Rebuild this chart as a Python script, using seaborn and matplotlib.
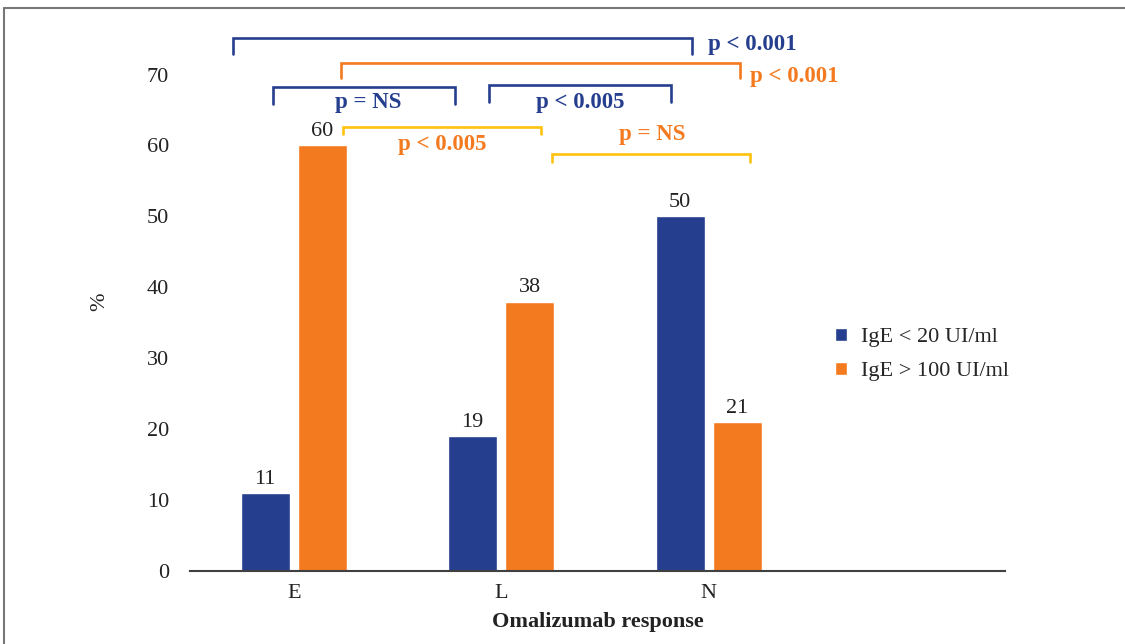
import matplotlib
matplotlib.use("Agg")
import matplotlib.pyplot as plt
import seaborn as sns
import pandas as pd
from matplotlib.lines import Line2D

# --- Data ------------------------------------------------------------------
categories = ["E", "L", "N"]
ige_low = [11, 19, 50]
ige_high = [60, 38, 21]
series_names = ["IgE < 20 UI/ml", "IgE > 100 UI/ml"]

blue = "#253E8E"
orange = "#F47A20"
yellow = "#FFC20E"

# significance brackets: (x_left, x_right, y_top, leg_drop, colour)
brackets = [
    (-0.293, 1.920, 75.2, 2.3, blue),
    (0.229, 2.151, 71.65, 2.1, orange),
    (-0.099, 0.777, 68.3, 2.5, blue),
    (0.942, 1.819, 68.5, 2.4, blue),
    (0.239, 1.193, 62.6, 1.0, yellow),
    (1.245, 2.200, 58.8, 1.1, yellow),
]
# p-value texts: (x, y, text, colour, ha)
p_labels = [
    (1.996, 74.3, "p < 0.001", blue, "left"),
    (2.200, 69.7, "p < 0.001", orange, "left"),
    (0.358, 66.0, "p = NS", blue, "center"),
    (1.380, 66.0, "p < 0.005", blue, "center"),
    (0.715, 60.1, "p < 0.005", orange, "center"),
    (1.730, 61.6, "p = NS", orange, "center"),
]

df = pd.DataFrame({
    "response": categories * 2,
    "value": ige_low + ige_high,
    "group": [series_names[0]] * 3 + [series_names[1]] * 3,
})

# --- Plot ------------------------------------------------------------------
sns.set_style("white")
plt.rcParams["font.family"] = ["Liberation Serif", "DejaVu Serif"]

fig = plt.figure(figsize=(11.25, 6.44), dpi=100)
ax = fig.add_axes([190 / 1125, 1 - 571 / 644, 815 / 1125, 539 / 644])

sns.barplot(data=df, x="response", y="value", hue="group", order=categories,
            hue_order=series_names, palette=[blue, orange], width=0.55, gap=0.14,
            saturation=1, ax=ax)

ax.set_xlim(-0.5, 3.428)
ax.set_ylim(0, 76)
ax.set_yticks(range(0, 71, 10))

for container in ax.containers:
    ax.bar_label(container, fmt="%d", padding=3, fontsize=16, color="#222222")

for side in ["top", "right", "left"]:
    ax.spines[side].set_visible(False)
ax.spines["bottom"].set_color("#404040")
ax.spines["bottom"].set_linewidth(1.5)
ax.tick_params(axis="y", length=0, pad=15, labelsize=16, labelcolor="#222222")
ax.tick_params(axis="x", length=0, pad=9, labelsize=16, labelcolor="#222222")

ax.set_xlabel("Omalizumab response", fontsize=16, fontweight="bold",
              color="#222222", labelpad=7)
ax.set_ylabel("%", fontsize=16, color="#222222")
ax.yaxis.set_label_coords(-0.099, 0.5)

# brackets and p-values
for x0, x1, yt, drop, col in brackets:
    ax.plot([x0, x0, x1, x1], [yt - drop, yt, yt, yt - drop], color=col,
            lw=1.9, clip_on=False, solid_joinstyle="miter")
for x, y, txt, col, ha in p_labels:
    ax.text(x, y, txt, color=col, ha=ha, va="center", fontsize=16.5,
            fontweight="bold", clip_on=False)

handles, labels = ax.get_legend_handles_labels()
ax.legend(handles, labels, loc="upper left", bbox_to_anchor=(0.778, 0.472),
          frameon=False, fontsize=16, handlelength=0.55, handleheight=0.55,
          handletextpad=0.6, labelspacing=0.65, borderpad=0)

# frame edges of the original panel
fig.add_artist(Line2D([4 / 1125, 1], [1 - 8 / 644, 1 - 8 / 644],
                      color="#777777", lw=1.5))
fig.add_artist(Line2D([4 / 1125, 4 / 1125], [0, 1 - 8 / 644],
                      color="#777777", lw=1.5))

fig.savefig("out.png", dpi=100)
